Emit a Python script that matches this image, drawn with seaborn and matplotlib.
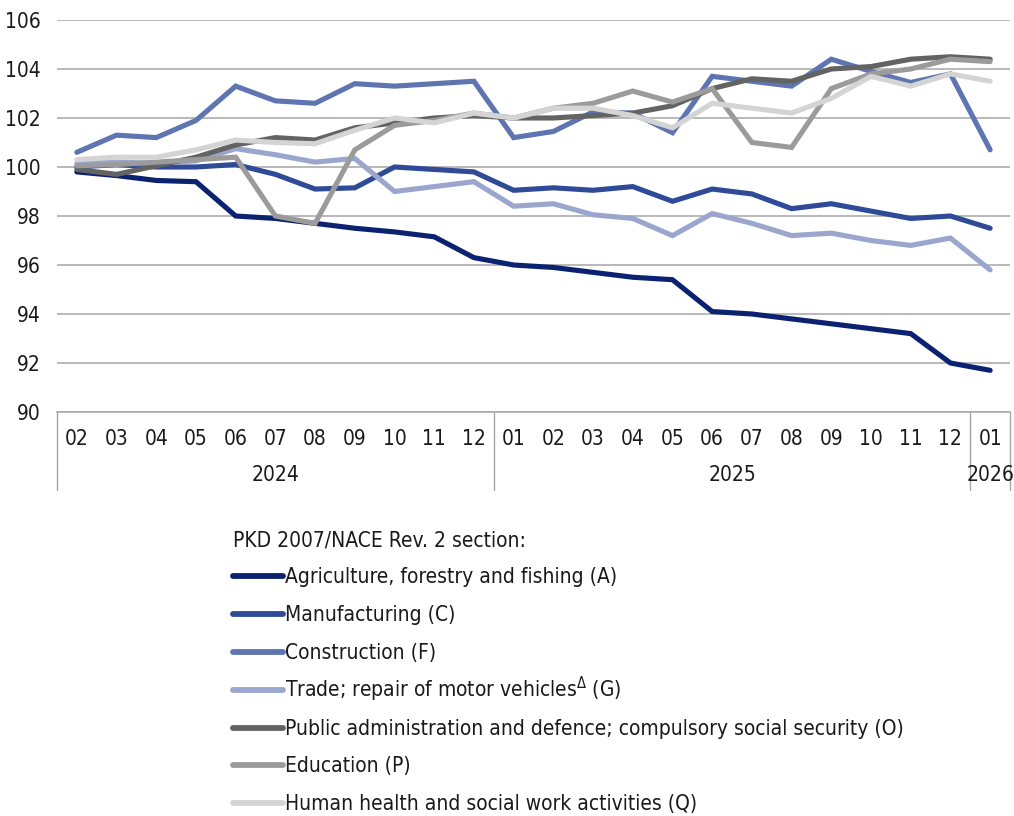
import numpy as np
import pandas as pd
import seaborn as sns
import matplotlib.pyplot as plt
import matplotlib.transforms as mtransforms

# data ---------------------------------------------------------------
months = ["02", "03", "04", "05", "06", "07", "08", "09", "10", "11", "12",
          "01", "02", "03", "04", "05", "06", "07", "08", "09", "10", "11", "12",
          "01"]
periods = [f"{y}-{m}" for y, m in zip([2024] * 11 + [2025] * 12 + [2026], months)]
years = ["2024", "2025", "2026"]
year_counts = [11, 12, 1]

agriculture = [99.8, 99.65, 99.45, 99.4, 98.0, 97.9, 97.7, 97.5, 97.35, 97.15, 96.3,
               96.0, 95.9, 95.7, 95.5, 95.4, 94.1, 94.0, 93.8, 93.6, 93.4, 93.2, 92.0,
               91.7]
manufacturing = [100.0, 100.1, 100.0, 100.0, 100.1, 99.7, 99.1, 99.15, 100.0, 99.9, 99.8,
                 99.05, 99.15, 99.05, 99.2, 98.6, 99.1, 98.9, 98.3, 98.5, 98.2, 97.9, 98.0,
                 97.5]
construction = [100.6, 101.3, 101.2, 101.9, 103.3, 102.7, 102.6, 103.4, 103.3, 103.4, 103.5,
                101.2, 101.45, 102.25, 102.2, 101.4, 103.7, 103.5, 103.3, 104.4, 103.9, 103.45, 103.8,
                100.7]
trade = [100.15, 100.2, 100.15, 100.25, 100.75, 100.5, 100.2, 100.35, 99.0, 99.2, 99.4,
         98.4, 98.5, 98.05, 97.9, 97.2, 98.1, 97.7, 97.2, 97.3, 97.0, 96.8, 97.1,
         95.8]
public_admin = [99.9, 99.7, 100.05, 100.4, 100.9, 101.2, 101.1, 101.6, 101.8, 102.0, 102.1,
                102.0, 102.0, 102.1, 102.2, 102.5, 103.2, 103.6, 103.5, 104.0, 104.1, 104.4, 104.5,
                104.4]
education = [100.05, 100.1, 100.2, 100.3, 100.4, 98.0, 97.7, 100.7, 101.7, 101.9, 102.2,
             102.0, 102.4, 102.6, 103.1, 102.65, 103.2, 101.0, 100.8, 103.2, 103.8, 104.0, 104.4,
             104.3]
health = [100.3, 100.4, 100.4, 100.7, 101.1, 101.0, 100.95, 101.5, 102.0, 101.8, 102.2,
          102.0, 102.4, 102.4, 102.1, 101.6, 102.6, 102.4, 102.2, 102.8, 103.7, 103.3, 103.8,
          103.5]

series_names = ["Agriculture, forestry and fishing (A)",
                "Manufacturing (C)",
                "Construction (F)",
                "Trade; repair of motor vehicles$^{\\Delta}$ (G)",
                "Public administration and defence; compulsory social security (O)",
                "Education (P)",
                "Human health and social work activities (Q)"]
series_values = [agriculture, manufacturing, construction, trade,
                 public_admin, education, health]
colors = ["#0b2270", "#2f4a96", "#5f75b2", "#9aa6ce", "#636363", "#9b9b9b", "#d4d4d4"]

df = pd.concat([pd.DataFrame({"period": periods, "value": v, "section": n})
                for n, v in zip(series_names, series_values)], ignore_index=True)

# plot ---------------------------------------------------------------
sns.set_style("white")
plt.rcParams["font.family"] = ["DejaVu Sans"]
plt.rcParams["font.stretch"] = "condensed"
plt.rcParams["text.color"] = "#1a1a1a"

fig = plt.figure(figsize=(10.14, 8.16), dpi=100)
ax = fig.add_axes([57 / 1014, 1 - 412 / 816, (1010 - 57) / 1014, (412 - 20) / 816])

sns.lineplot(data=df, x="period", y="value", hue="section", palette=colors,
             hue_order=series_names, sort=False, linewidth=3.7, ax=ax,
             solid_capstyle="round", solid_joinstyle="miter")

ax.set_ylim(90, 106)
ax.set_yticks(np.arange(90, 107, 2))
ax.set_xlim(-0.5, len(periods) - 0.5)
ax.yaxis.grid(True, color="#a6a6a6", linewidth=1.1)
ax.set_axisbelow(True)
for s in ["top", "right", "left"]:
    ax.spines[s].set_visible(False)
ax.spines["bottom"].set_color("#a6a6a6")
ax.spines["bottom"].set_linewidth(1.1)
ax.tick_params(axis="y", length=0, labelsize=15, pad=12, labelcolor="#1a1a1a")
ax.set_xticks(range(len(periods)))
ax.set_xticklabels(months)
ax.tick_params(axis="x", length=0, labelsize=15, pad=12, labelcolor="#1a1a1a")
ax.set_xlabel("")
ax.set_ylabel("")

# year level of the category axis
trans = mtransforms.blended_transform_factory(ax.transData, ax.transAxes)
edges = np.concatenate([[0], np.cumsum(year_counts)]) - 0.5
for e in edges:
    ax.plot([e, e], [0, -0.2], transform=trans, color="#a6a6a6", lw=1.0, clip_on=False)
for i, yr in enumerate(years):
    ax.text((edges[i] + edges[i + 1]) / 2, -0.16, yr, transform=trans,
            ha="center", va="center", fontsize=15)

# legend
handles, labels = ax.get_legend_handles_labels()
ax.legend_.remove()
leg = fig.legend(handles, labels, loc="upper left", bbox_to_anchor=(225 / 1014, 1 - 522 / 816),
                 frameon=False, fontsize=15, title="PKD 2007/NACE Rev. 2 section:",
                 title_fontsize=15, alignment="left", handlelength=2.4, handletextpad=0.1,
                 handleheight=1.9, labelspacing=0.33, borderaxespad=0)
leg._legend_box.sep = 0.33 * 15 + 3.0   # a bit more room under the title
for h in leg.get_lines():
    h.set_linewidth(4.2)
    h.set_solid_capstyle("round")

# centre the handles on the text rows (tall handle boxes push them up)
fig.canvas.draw()
r = fig.canvas.get_renderer()
tb = leg.get_texts()[0].get_window_extent(r)
ln0 = leg.get_lines()[0]
ly = ln0.get_transform().transform([[0, ln0.get_ydata()[0]]])[0][1]
dy = (ly - (tb.y0 + tb.y1) / 2 - 1) * 72 / fig.dpi
for h in leg.get_lines():
    h.set_ydata(np.asarray(h.get_ydata()) - dy)

fig.savefig("out.png", dpi=100)
